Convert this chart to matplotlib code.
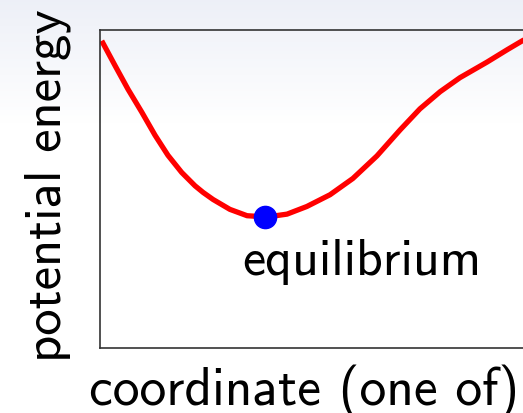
import numpy as np
import matplotlib
matplotlib.use("Agg")
import matplotlib.pyplot as plt

# curve (coordinate, energy)
coord = [0.04, 0.35, 0.65, 0.97, 1.28, 1.58, 1.90, 2.21, 2.40, 2.63,
         3.02, 3.42, 3.88, 4.35, 4.81, 5.35, 5.88, 6.44, 6.98, 7.44,
         7.91, 8.37, 9.00, 9.47, 9.77, 10.0]
energy = [9.66, 8.88, 8.14, 7.42, 6.69, 6.06, 5.52, 5.10, 4.89, 4.67,
          4.36, 4.16, 4.12, 4.21, 4.45, 4.82, 5.33, 6.04, 6.86, 7.52,
          8.06, 8.50, 8.99, 9.38, 9.62, 9.80]
eq_coord = [3.84]
eq_energy = [4.12]
eq_label = "equilibrium"
xlabel = "coordinate (one of)"
ylabel = "potential energy"

plt.rcParams['axes.unicode_minus'] = False
fig = plt.figure(figsize=(5.23, 4.14), dpi=100)
W, H = 523, 414

# faint gradient behind everything
bg = fig.add_axes([0, 0, 1, 1], zorder=-1)
grad = np.linspace(0, 1, H)[:, None]
top = np.array([0.93, 0.94, 0.97])
fade = np.clip(grad / 0.3, 0, 1)
img = top + (1 - top) * fade[..., None]
img = np.repeat(img, 2, axis=1)
bg.imshow(img, aspect='auto', extent=[0, 1, 0, 1], origin='upper')
bg.axis('off')

ax = fig.add_axes([100 / W, (H - 349) / H, 430 / W, 318 / H])
ax.set_facecolor('none')
ax.plot(coord, energy, color='red', lw=3.8, solid_capstyle='butt',
        solid_joinstyle='round')
ax.plot(eq_coord, eq_energy, 'o', color='blue', ms=16, zorder=3)
ax.text(3.31, 2.33, eq_label, fontsize=37.5, family='cmss10',
        va='baseline', ha='left')
ax.set_xlim(0, 10)
ax.set_ylim(0, 10)
ax.set_xticks([])
ax.set_yticks([])
for s in ax.spines.values():
    s.set_color('#333333')
    s.set_linewidth(1.2)

fig.text(89 / W, (H - 405) / H, xlabel, fontsize=38.5, family='cmss10',
         ha='left', va='baseline')
fig.text(48 / W, (H - 185.5) / H, ylabel, fontsize=38, family='cmss10',
         rotation=90, ha='center', va='center')

fig.savefig('out.png', dpi=100)
